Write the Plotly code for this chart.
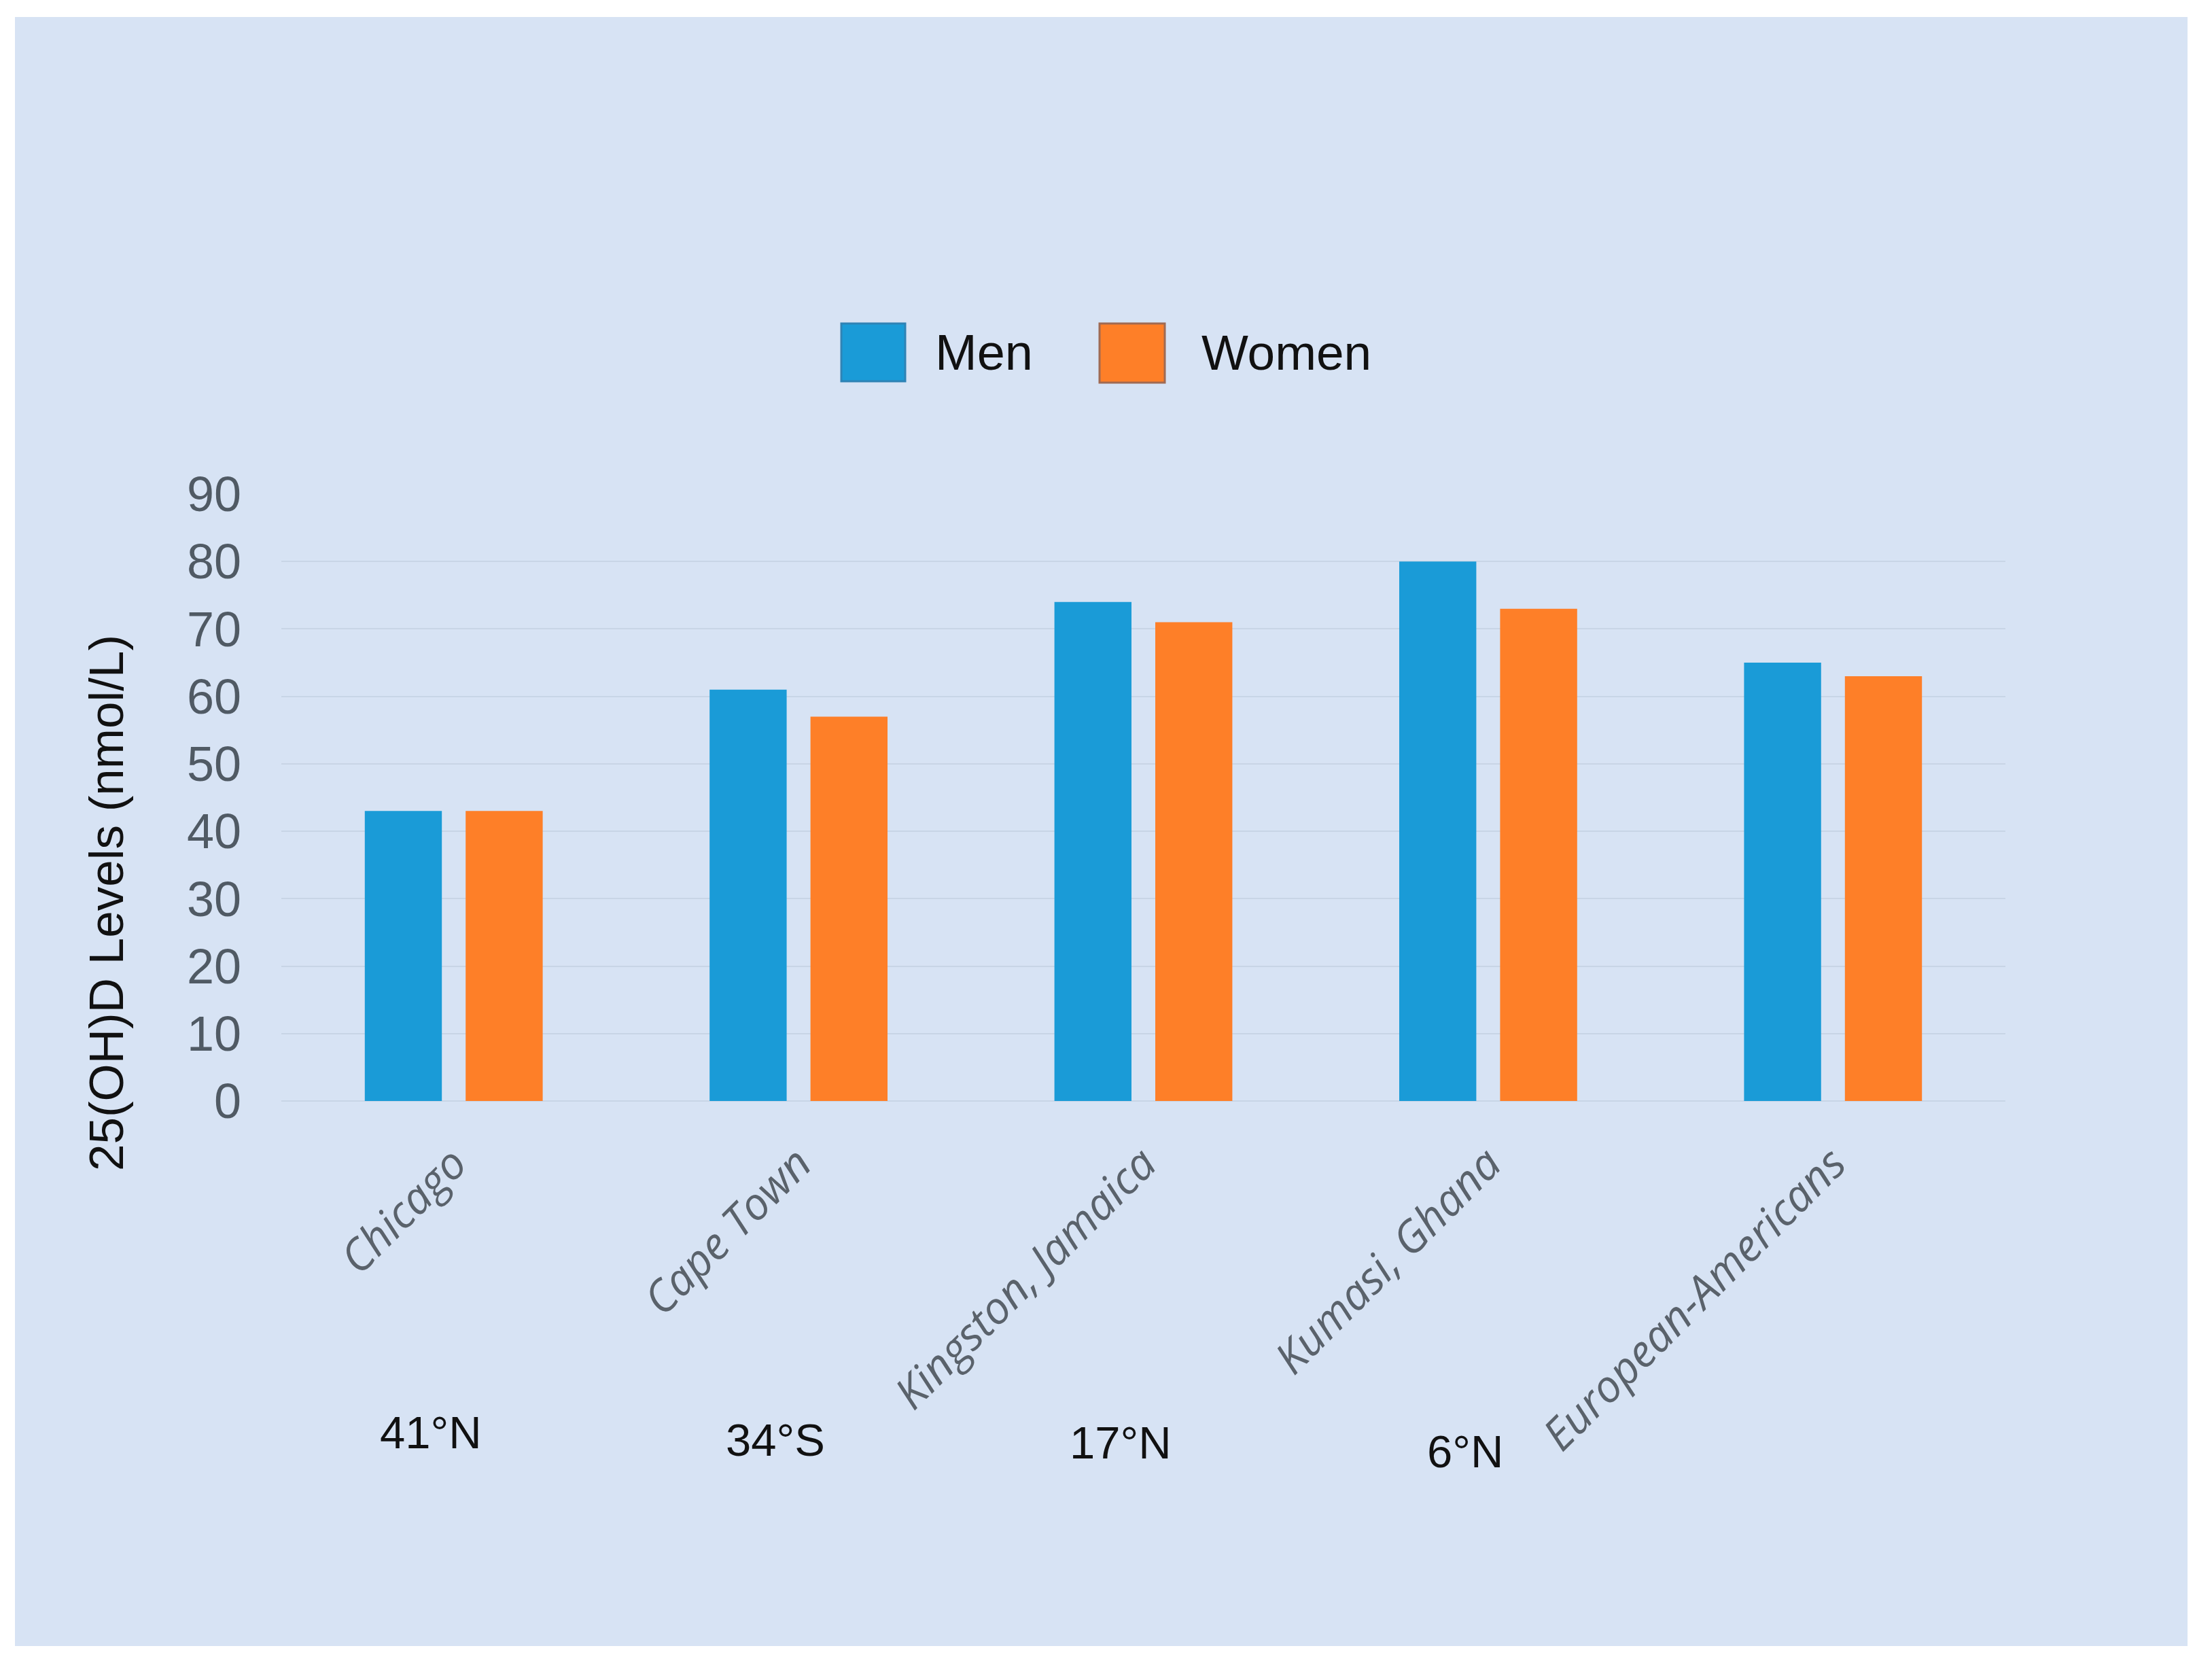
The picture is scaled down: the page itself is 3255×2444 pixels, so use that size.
import plotly.graph_objects as go

# data
categories = ['Chicago', 'Cape Town', 'Kingston, Jamaica', 'Kumasi, Ghana', 'European-Americans']
men = [43, 61, 74, 80, 65]
women = [43, 57, 71, 73, 63]
latitudes = ['41\u00b0N', '34\u00b0S', '17\u00b0N', '6\u00b0N']
y_ticks = [0, 10, 20, 30, 40, 50, 60, 70, 80, 90]

BG = '#d7e3f4'
BLUE = '#1a9bd7'
ORANGE = '#fe7f28'

# page is 3255x2444, the html body adds an 8px margin
OFF = 8
W, H = 3255 - 2 * OFF, 2444 - 2 * OFF
L, R, T, B = 414, 2951, 727, 1620  # plot area in page pixels


def px(x):
    return (x - L) / (R - L)


def py(y):
    return (B - y) / (B - T)


fig = go.Figure()
fig.add_trace(go.Bar(x=categories, y=men, name='Men', marker=dict(color=BLUE, line=dict(width=0))))
fig.add_trace(go.Bar(x=categories, y=women, name='Women', marker=dict(color=ORANGE, line=dict(width=0))))

# light blue panel with white frame
fig.add_shape(type='rect', xref='paper', yref='paper', x0=px(22), x1=px(3219), y0=py(2422), y1=py(25),
              fillcolor=BG, line=dict(width=0), layer='below')

# legend drawn by hand (large keys)
fig.add_shape(type='rect', xref='paper', yref='paper', x0=px(1238), x1=px(1332), y0=py(561), y1=py(476),
              fillcolor=BLUE, line=dict(color='#2f83b5', width=3))
fig.add_shape(type='rect', xref='paper', yref='paper', x0=px(1618), x1=px(1714), y0=py(563), y1=py(476),
              fillcolor=ORANGE, line=dict(color='#a06a52', width=3))
fig.add_annotation(text='Men', xref='paper', yref='paper', x=px(1374), y=py(518), xanchor='left',
                   yanchor='middle', showarrow=False, font=dict(size=74, color='#111111'))
fig.add_annotation(text='Women', xref='paper', yref='paper', x=px(1766), y=py(518), xanchor='left',
                   yanchor='middle', showarrow=False, font=dict(size=73, color='#111111'))

# y axis title (sits lower than the axis centre in the original)
fig.add_annotation(text='25(OH)D Levels (nmol/L)', xref='paper', yref='paper', x=px(156), y=py(1329),
                   textangle=-90, showarrow=False, xanchor='center', yanchor='middle',
                   font=dict(size=71, color='#111111'))

# latitude labels under the category names
lat_y = [2107, 2118, 2122, 2135]
for i, lab in enumerate(latitudes):
    fig.add_annotation(text=lab, x=categories[i], xref='x', yref='paper', y=py(lat_y[i]),
                       xshift=-34, showarrow=False, xanchor='center', yanchor='middle',
                       font=dict(size=67, color='#111111'))

fig.update_layout(
    width=W, height=H, autosize=False,
    margin=dict(l=L - OFF, r=W - (R - OFF), t=T - OFF, b=H - (B - OFF), pad=0),
    paper_bgcolor='white',
    plot_bgcolor=BG,
    barmode='group',
    bargap=0.415,
    bargroupgap=0.236,
    showlegend=False,
    font=dict(family='Liberation Sans, Arial, sans-serif'),
)
fig.update_xaxes(
    tickangle=-45,
    tickfont=dict(family='Open Sans, sans-serif', size=65, color='#5a626b', style='italic'),
    showgrid=False, showline=False, zeroline=False,
    ticks='', ticklabelstandoff=40,
)
fig.update_yaxes(
    range=[0, 90], tickvals=y_ticks,
    tickfont=dict(size=72, color='#505a64'),
    showgrid=True, gridcolor='#c8d5e6', gridwidth=2,
    zeroline=True, zerolinecolor='#c8d5e6', zerolinewidth=2,
    showline=False, ticks='', ticklabelstandoff=58,
)

fig.write_html('out.html')
